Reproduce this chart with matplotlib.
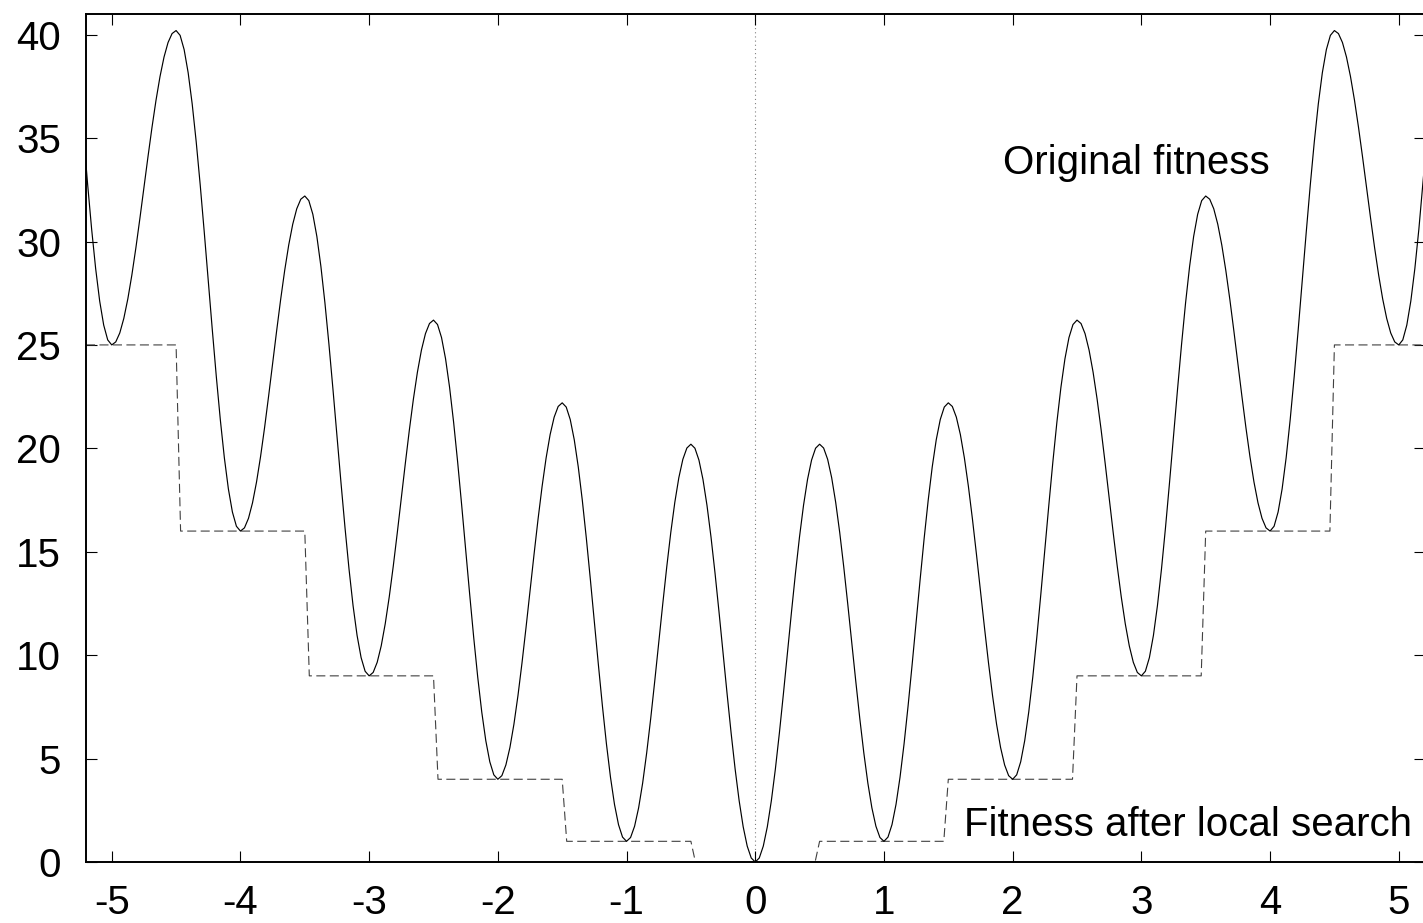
import numpy as np
import matplotlib
matplotlib.use("Agg")
import matplotlib.pyplot as plt

plt.rcParams["font.family"] = ["Liberation Sans", "DejaVu Sans"]
plt.rcParams["lines.scale_dashes"] = False
plt.rcParams["axes.unicode_minus"] = False

# extremos de la curva original
x_valles = [-5, -4, -3, -2, -1, 0, 1, 2, 3, 4, 5]
y_valles = [25, 16, 9, 4, 1, 0, 1, 4, 9, 16, 25]
x_picos = [-5.5, -4.5, -3.5, -2.5, -1.5, -0.5, 0.5, 1.5, 2.5, 3.5, 4.5, 5.5]
y_picos = [50.2, 40.2, 32.2, 26.2, 22.2, 20.2, 20.2, 22.2, 26.2, 32.2, 40.2, 50.2]

# escalones tras busqueda local
bordes = [-5.2, -4.5, -3.5, -2.5, -1.5, -0.5, 0.5, 1.5, 2.5, 3.5, 4.5, 5.2]
niveles = [25, 16, 9, 4, 1, 0, 1, 4, 9, 16, 25]

xticks = [-5, -4, -3, -2, -1, 0, 1, 2, 3, 4, 5]
yticks = [0, 5, 10, 15, 20, 25, 30, 35, 40]

# curva: transicion suave (media onda) entre extremos consecutivos
ext = sorted(zip(x_valles + x_picos, y_valles + y_picos))
xs, ys = [], []
for (xa, ya), (xb, yb) in zip(ext[:-1], ext[1:]):
    t = np.linspace(0, 1, 17)[:-1]
    xs.extend(xa + (xb - xa) * t)
    ys.extend(ya + (yb - ya) * (1 - np.cos(np.pi * t)) / 2)
xs.append(ext[-1][0]); ys.append(ext[-1][1])

# escalera con paso casi vertical (muestreo del original)
sx, sy = [], []
d = 0.035
for i, nivel in enumerate(niveles):
    a, b = bordes[i], bordes[i + 1]
    if a < 0 and i > 0:
        a += d
    if b > 0 and i < len(niveles) - 1:
        b -= d
    sx += [a, b]
    sy += [nivel, nivel]

fig = plt.figure(figsize=(14.23, 9.23), dpi=100)
ax = fig.add_axes([86 / 1423, 61 / 923, 1338.5 / 1423, 848 / 923])

ax.axvline(0, color="#808080", lw=0.8, dashes=(0.8, 2.2), zorder=1)
ax.plot(sx, sy, color="#404040", lw=0.8, dashes=(6.5, 3.2), zorder=2)
ax.plot(xs, ys, color="black", lw=0.85, zorder=3)

ax.set_xlim(-5.2, 5.2)
ax.set_ylim(0, 41)
ax.set_xticks(xticks)
ax.set_yticks(yticks)
ax.tick_params(direction="in", length=8, width=0.8, top=True, right=True,
               labelsize=29)
ax.tick_params(axis="x", pad=16)
ax.tick_params(axis="y", pad=18)
for s in ax.spines.values():
    s.set_linewidth(1.4)

ax.text(4.0, 33.8, "Original fitness", fontsize=29, ha="right", va="center")
ax.text(5.1, 1.8, "Fitness after local search", fontsize=29, ha="right", va="center")

plt.savefig("out.png", dpi=100)
plt.close()
